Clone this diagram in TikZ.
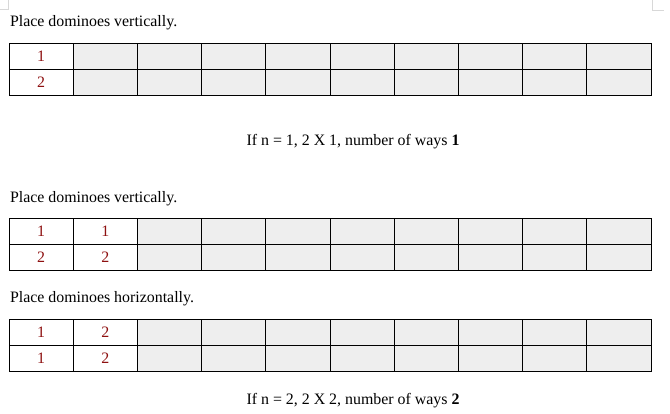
\documentclass[tikz,border=0pt]{standalone}
\usepackage{fontspec}
\setmainfont{Liberation Serif}
\usepackage{tikz}
\usetikzlibrary{positioning}
\usepackage{xcolor}
\definecolor{cellgray}{HTML}{EEEEEE}
\definecolor{numred}{HTML}{8E1010}
\definecolor{markgray}{HTML}{D8D8D8}

\begin{document}
\begin{tikzpicture}[
		x=1pt, y=-1pt,
		every node/.style={font=\fontsize{15.9}{18}\selectfont, inner sep=0pt, outer sep=0pt},
		cell/.style={draw=black, line width=0.9pt, minimum width=64.2pt, minimum height=26pt, anchor=north west, text=numred},
		emptycell/.style={cell, fill=cellgray},
		fullcell/.style={cell, fill=white},
		caption/.style={anchor=base west},
		result/.style={anchor=base}
	]
	\useasboundingbox (0,0) rectangle (670,414);
	% page corner marks
	\coordinate (tl) at (8,0);
	\coordinate (tr) at (652,0);
	\draw[markgray, line width=1pt] (tl) |- ++(-8,10);
	\draw[markgray, line width=1pt] (tr) |- ++(12,11);

	% n = 1, vertical
	\node[caption] (cap1) at (10,26.5) {Place dominoes vertically.};
	\foreach \c in {1,...,9} {
		\node[emptycell] (a-\c-1) at ({9+64.2*\c},43) {};
		\node[emptycell] (a-\c-2) at ({9+64.2*\c},69) {};
	}
	\node[fullcell] (a-0-1) at (9,43) {1};
	\node[fullcell] (a-0-2) at (9,69) {2};
	\node[result] (res1) at (353,145.7) {If n = 1, 2 X 1, number of ways \textbf{1}};

	% n = 2, vertical
	\node[caption] (cap2) at (10,202.7) {Place dominoes vertically.};
	\foreach \c in {2,...,9} {
		\node[emptycell] (b-\c-1) at ({9+64.2*\c},218) {};
		\node[emptycell] (b-\c-2) at ({9+64.2*\c},244) {};
	}
	\foreach \c in {0,1} {
		\node[fullcell] (b-\c-1) at ({9+64.2*\c},218) {1};
		\node[fullcell] (b-\c-2) at ({9+64.2*\c},244) {2};
	}

	% n = 2, horizontal
	\node[caption] (cap3) at (10,303) {Place dominoes horizontally.};
	\foreach \c in {2,...,9} {
		\node[emptycell] (h-\c-1) at ({9+64.2*\c},319) {};
		\node[emptycell] (h-\c-2) at ({9+64.2*\c},345) {};
	}
	\foreach \c/\v in {0/1,1/2} {
		\node[fullcell] (h-\c-1) at ({9+64.2*\c},319) {\v};
		\node[fullcell] (h-\c-2) at ({9+64.2*\c},345) {\v};
	}
	\node[result] (res2) at (353,404) {If n = 2, 2 X 2, number of ways \textbf{2}};
\end{tikzpicture}
\end{document}
